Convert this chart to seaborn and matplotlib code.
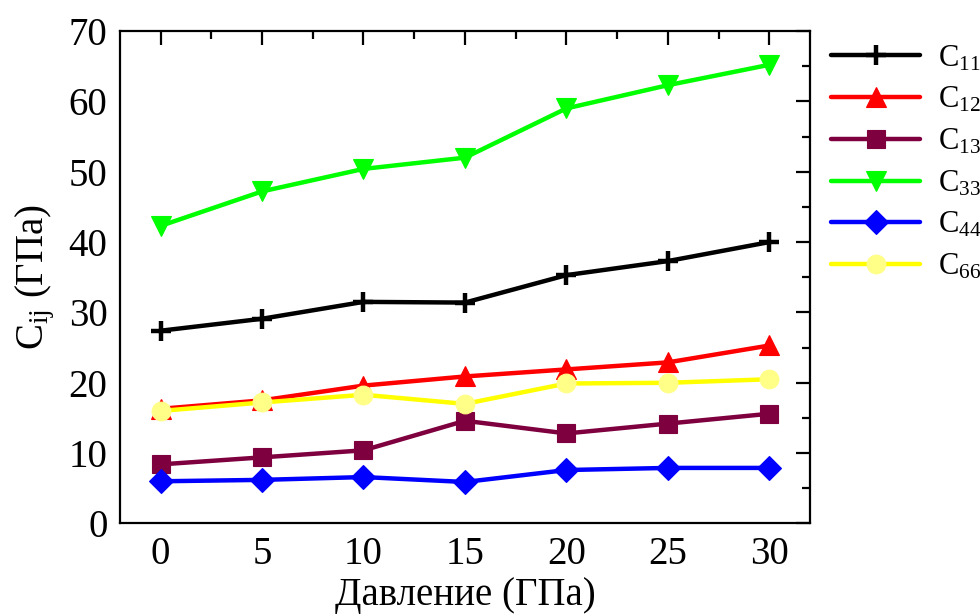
import matplotlib
matplotlib.use("Agg")
import matplotlib.pyplot as plt
from matplotlib.ticker import MultipleLocator
import seaborn as sns
import pandas as pd

# Pressure points (GPa)
pressure = [0, 5, 10, 15, 20, 25, 30]

# Elastic constants Cij (GPa) at each pressure
c11 = [27.4, 29.1, 31.5, 31.4, 35.3, 37.3, 40.0]
c12 = [16.3, 17.5, 19.6, 20.9, 21.9, 22.9, 25.3]
c13 = [8.4, 9.4, 10.4, 14.6, 12.8, 14.2, 15.6]
c33 = [42.3, 47.2, 50.4, 52.0, 59.0, 62.3, 65.2]
c44 = [6.0, 6.2, 6.6, 5.9, 7.6, 7.9, 7.9]
c66 = [16.0, 17.2, 18.3, 17.0, 19.9, 20.0, 20.5]

labels = [r"C$_{11}$", r"C$_{12}$", r"C$_{13}$", r"C$_{33}$", r"C$_{44}$", r"C$_{66}$"]
series = [c11, c12, c13, c33, c44, c66]
colors = ["#000000", "#FF0000", "#7F003F", "#00FF00", "#0000FF", "#FFFF00"]
face_colors = ["#000000", "#FF0000", "#7F003F", "#00FF00", "#0000FF", "#FFFF88"]
markers = ["+", "^", "s", "v", "D", "o"]
sizes = [14, 15, 13.5, 15, 12.5, 13.5]

sns.set_style("white")
plt.rcParams["font.family"] = ["Liberation Serif", "DejaVu Serif"]
plt.rcParams["mathtext.fontset"] = "custom"
plt.rcParams["mathtext.rm"] = "Liberation Serif"
plt.rcParams["mathtext.it"] = "Liberation Serif:italic"
plt.rcParams["text.color"] = "black"
plt.rcParams["axes.labelcolor"] = "black"
plt.rcParams["xtick.color"] = "black"
plt.rcParams["ytick.color"] = "black"

fig = plt.figure(figsize=(9.8, 6.14), dpi=100)
ax = fig.add_axes([0.1224, 0.1474, 0.7041, 0.8021])

for vals, lab, col, fc, mk, ms in zip(series, labels, colors, face_colors, markers, sizes):
    df = pd.DataFrame({"P": pressure, "C": vals})
    sns.lineplot(
        data=df, x="P", y="C", ax=ax, color=col, label=lab,
        marker=mk, markersize=ms, markerfacecolor=fc,
        markeredgecolor=fc if mk != "+" else col,
        markeredgewidth=3.2 if mk == "+" else 0.8,
        linewidth=3.2, estimator=None, sort=False,
    )

ax.set_xlim(-2, 32)
ax.set_ylim(0, 70)
ax.xaxis.set_major_locator(MultipleLocator(5))
ax.xaxis.set_minor_locator(MultipleLocator(2.5))
ax.yaxis.set_major_locator(MultipleLocator(10))
ax.yaxis.set_minor_locator(MultipleLocator(5))
ax.tick_params(which="both", direction="in", top=True, right=True, width=1.6,
               labelsize=28, pad=9, colors="black")
ax.tick_params(which="major", length=10)
ax.tick_params(which="minor", length=6)
for sp in ax.spines.values():
    sp.set_linewidth(1.6)
    sp.set_color("black")

ax.set_xlabel("Давление (ГПа)", fontsize=28, labelpad=3)
ax.set_ylabel(r"C$_{\rm ij}$ (ГПа)", fontsize=28, labelpad=8)

ax.legend(loc="upper left", bbox_to_anchor=(1.0, 1.018), frameon=False,
          fontsize=22, handlelength=2.9, handletextpad=0.6, labelspacing=0.4,
          borderaxespad=0.3)

fig.savefig("out.png", dpi=100)
